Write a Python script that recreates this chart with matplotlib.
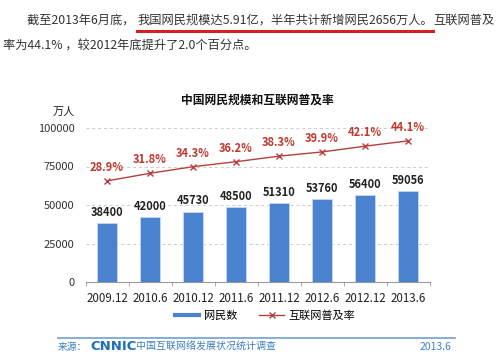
import matplotlib.pyplot as plt
from matplotlib.lines import Line2D

plt.rcParams['font.family'] = ['Noto Sans CJK SC', 'DejaVu Sans']

# data
periods = ["2009.12", "2010.6", "2010.12", "2011.6", "2011.12", "2012.6", "2012.12", "2013.6"]
users = [38400, 42000, 45730, 48500, 51310, 53760, 56400, 59056]
rate = [28.9, 31.8, 34.3, 36.2, 38.3, 39.9, 42.1, 44.1]

W, H = 500, 361
fig = plt.figure(figsize=(W / 100, H / 100), dpi=100)
fig.patch.set_facecolor("white")


def fx(px):
    return px / W


def fy(py):
    return 1 - py / H


# paragraph above the chart
txt_color = "#333333"
t1 = fig.text(fx(27), fy(20), "截至2013年6月底， ", fontsize=8.8, color=txt_color, va="center")
t2 = fig.text(0, 0, "我国网民规模达5.91亿，半年共计新增网民2656万人。", fontsize=8.8, color=txt_color, va="center")
t3 = fig.text(0, 0, "互联网普及", fontsize=8.8, color=txt_color, va="center")
fig.text(fx(3), fy(46), "率为44.1% ，较2012年底提升了2.0个百分点。", fontsize=8.8, color=txt_color, va="center")

fig.canvas.draw()
r = fig.canvas.get_renderer()
bb1 = t1.get_window_extent(r)
t2.set_position((bb1.x1 / W, fy(20)))
bb2 = t2.get_window_extent(r)
t3.set_position((bb2.x1 / W, fy(20)))
fig.add_artist(Line2D([bb2.x0 / W, bb2.x1 / W], [fy(31), fy(31)], color="#d42020", lw=2.2))

# main chart
ax = fig.add_axes([fx(85.5), fy(282), fx(429.5) - fx(85.5), fy(128) - fy(282)])
ax.set_facecolor("none")
xs = range(len(periods))
ax.bar(xs, users, width=0.47, color="#4a82d0", edgecolor="#c5d8f0", linewidth=0.6, zorder=3)
for x, v in zip(xs, users):
    ax.text(x, v + 2800, str(v), ha="center", va="bottom", fontsize=8, fontweight="bold", color="#222222")

ax.set_xlim(-0.5, len(periods) - 0.5)
ax.set_ylim(0, 100000)
ax.set_yticks([0, 25000, 50000, 75000, 100000])
ax.set_yticklabels(["0", "25000", "50000", "75000", "100000"], fontsize=8, color="#333333")
ax.tick_params(axis="y", length=0, pad=8)
ax.grid(axis="y", linestyle=(0, (3, 3)), color="#cccccc", lw=0.7, zorder=0)
ax.set_xticks(list(xs))
ax.set_xticklabels(periods, fontsize=8.3, color="#222222")
ax.set_xticks([i - 0.5 for i in range(len(periods) + 1)], minor=True)
ax.tick_params(axis="x", which="major", length=0, pad=7)
ax.tick_params(axis="x", which="minor", length=3, color="#999999")
for s in ["top", "right", "left"]:
    ax.spines[s].set_visible(False)
ax.spines["bottom"].set_color("#999999")

ax2 = ax.twinx()
ax2.set_ylim(-9.5, 49.0)
ax2.plot(xs, rate, color="#b5403f", lw=1.0, marker="x", ms=4, mew=1.0, zorder=4)
for x, v in zip(xs, rate):
    ax2.text(x, v + 2.6, f"{v}%", ha="center", va="bottom", fontsize=8, fontweight="bold", color="#c0392f")
ax2.axis("off")

fig.text(fx(257), fy(100), "中国网民规模和互联网普及率", fontsize=8.5, fontweight="bold",
         color="#111111", ha="center", va="center")
fig.text(fx(64), fy(112), "万人", fontsize=8, color="#222222", ha="center", va="center")

# legend
handles = [Line2D([], [], color="#4a82d0", lw=3),
           Line2D([], [], color="#b5403f", lw=1, marker="x", ms=4)]
fig.legend(handles, ["网民数", "互联网普及率"], loc="center", bbox_to_anchor=(fx(265), fy(316)),
           ncol=2, frameon=False, fontsize=8, handlelength=2.2, columnspacing=2.0, handletextpad=0.4)

# source footer
fig.add_artist(Line2D([fx(58), fx(455)], [fy(338), fy(338)], color="#6fa0cf", lw=1.2))
blue = "#3f7fbf"
fig.text(fx(58), fy(347), "来源：", fontsize=7, color=blue, va="center")
fig.text(fx(90), fy(347), "CNNIC", fontsize=9.5, color="#1d6fb8", va="center", fontweight="bold",
         family="DejaVu Sans")
fig.text(fx(136), fy(347), "中国互联网络发展状况统计调查", fontsize=7.2, color=blue, va="center")
fig.text(fx(420), fy(347), "2013.6", fontsize=7.5, color=blue, va="center")

fig.savefig("out.png", dpi=100)
